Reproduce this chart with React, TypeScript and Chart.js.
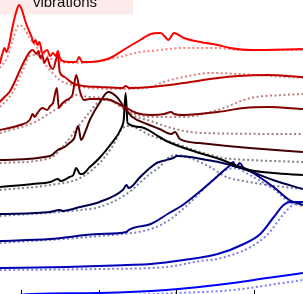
import React, { useEffect, useRef } from "react";
import { Chart, registerables } from "chart.js";

Chart.register(...registerables);

type P = [number, number];

const seriesLabels = ["S1", "S2", "S3", "S4", "S5", "S6", "S7", "S8", "S9"];
const seriesColors = ["255,0,0", "191,0,0", "128,0,0", "70,0,0", "0,0,0", "0,0,80", "0,0,140", "0,0,191", "0,0,255"];
const xTickValues = [40, 120, 200, 280];
const legendText = "vibrations";

const s1Measured: P[] = [[18,11.5],[21,12.05],[23,12.3],[25,12.1],[28,12.55],[31,13.3],[35,14.1],[38,14.45],[41,14.2],[44,13.7],[47,13.3],[51,12.85],[53,12.55],[55,12.7],[57,12.45],[59,12.6],[62,12.05],[67,12.2],[70,11.9],[73,12.05],[76,11.9],[78,12.15],[80,11.8],[83,11.65],[90,11.6],[97,11.6],[100,11.85],[103,11.6],[111,11.6],[121,11.65],[132,11.8],[149,12.3],[163,12.7],[174,13.0],[184,13.05],[189,12.85],[192,12.7],[198,13.05],[208,12.8],[225,12.6],[243,12.45],[256,12.3],[277,12.2],[331,12.25]];
const s1Model: P[] = [[18,11.3],[26,11.85],[32,12.8],[38,13.45],[43,13.3],[49,12.8],[57,12.3],[68,11.85],[80,11.6],[101,11.55],[121,11.65],[142,11.85],[163,12.1],[174,12.15],[208,12.3],[243,12.3],[264,12.2],[331,12.2]];

const s2Measured: P[] = [[18,9.6],[23,9.85],[28,10.1],[33,10.55],[39,11.2],[44,11.7],[49,12.1],[52,12.2],[56,12.0],[58,12.15],[60,11.8],[62,11.95],[64,11.55],[67,11.8],[70,11.4],[73,11.25],[78,11.95],[80,11.1],[85,10.85],[93,10.55],[104,10.4],[121,10.35],[145,10.3],[148,10.4],[152,10.3],[174,10.35],[208,10.55],[243,10.8],[264,10.9],[295,10.95],[331,10.85]];
const s2Model: P[] = [[18,9.35],[31,10.05],[42,11.2],[49,11.9],[56,11.95],[67,11.35],[80,10.7],[93,10.45],[111,10.3],[142,10.25],[174,10.35],[187,10.6],[208,10.85],[236,11.05],[264,11.0],[331,10.8]];

const s3Measured: P[] = [[18,8.2],[28,8.3],[39,8.45],[49,8.7],[52,9.0],[54,8.85],[57,9.05],[62,9.3],[67,9.2],[70,9.4],[73,9.55],[77,10.3],[79,9.3],[82,9.5],[87,9.7],[93,9.95],[97,10.95],[101,10.1],[105,9.7],[111,9.75],[121,9.75],[132,9.7],[145,9.4],[159,9.05],[174,8.95],[188,9.0],[195,9.1],[198,9.0],[208,8.95],[243,9.1],[270,9.3],[295,9.35],[331,9.25]];
const s3Model: P[] = [[18,8.05],[52,8.55],[70,9.05],[87,9.6],[97,9.95],[111,9.85],[126,9.8],[152,9.1],[174,8.85],[208,8.85],[243,9.2],[277,9.8],[311,9.95],[331,10.0]];

const s4Measured: P[] = [[18,6.7],[70,6.9],[78,7.2],[85,7.35],[90,7.55],[95,7.8],[99,8.4],[102,7.7],[107,8.2],[111,8.7],[121,9.55],[130,10.1],[139,9.85],[147,9.3],[155,8.85],[170,8.5],[183,8.25],[195,8.0],[199,8.1],[204,7.75],[224,7.55],[253,7.4],[276,7.3],[331,7.1]];
const s4Model: P[] = [[18,6.55],[70,6.8],[87,7.6],[98,8.3],[111,9.1],[124,9.7],[139,9.55],[155,8.95],[174,8.65],[195,8.3],[226,8.05],[331,8.0]];

const s5Measured: P[] = [[18,5.35],[52,5.5],[70,5.6],[78,5.75],[81,5.65],[90,5.85],[94,5.95],[97,6.3],[101,6.0],[103,6.0],[111,6.35],[121,6.8],[132,7.45],[144,8.35],[146,8.7],[148,10.05],[150,8.55],[163,8.35],[183,7.85],[190,7.65],[224,7.05],[242,6.8],[276,6.2],[300,6.05],[331,5.95]];
const s5Model: P[] = [[18,5.2],[70,5.45],[101,5.8],[121,6.55],[134,7.35],[145,8.3],[152,8.4],[173,7.95],[204,7.45],[225,7.1],[249,6.8],[276,6.7],[331,6.6]];

const s6Measured: P[] = [[18,4.0],[70,4.1],[80,4.2],[83,4.15],[101,4.35],[121,4.6],[145,5.2],[149,5.45],[151,5.3],[163,5.85],[173,6.3],[180,6.55],[186,6.65],[197,6.8],[201,6.9],[214,6.85],[232,6.7],[248,6.55],[263,6.35],[276,6.15],[300,5.7],[331,5.25]];
const s6Model: P[] = [[18,3.9],[101,4.2],[121,4.35],[149,5.0],[173,6.0],[183,6.35],[193,6.85],[201,6.95],[214,6.8],[235,6.35],[252,5.85],[276,5.6],[294,5.45],[331,5.25]];

const s7Measured: P[] = [[18,2.65],[70,2.75],[121,3.0],[149,3.1],[151,3.2],[174,3.5],[193,4.05],[207,4.45],[224,5.1],[242,5.85],[250,6.2],[255,6.4],[259,6.6],[262,6.35],[266,6.55],[269,6.35],[276,6.15],[286,5.85],[302,5.3],[317,4.7],[331,4.45]];
const s7Model: P[] = [[18,2.55],[121,2.9],[174,3.25],[193,3.7],[214,4.55],[238,5.7],[248,6.1],[261,6.3],[276,5.95],[302,5.2],[317,4.6],[331,4.4]];

const s8Measured: P[] = [[18,1.3],[87,1.35],[149,1.45],[174,1.5],[208,1.7],[243,2.0],[270,2.5],[287,3.0],[301,3.85],[311,4.45],[318,4.6],[331,4.6]];
const s8Model: P[] = [[18,1.2],[121,1.25],[190,1.35],[225,1.65],[242,1.75],[277,2.35],[295,3.0],[311,4.0],[322,4.5],[331,4.6]];

const s9Measured: P[] = [[18,-0.15],[52,0.0],[121,0.05],[190,0.2],[259,0.55],[294,0.8],[331,1.05]];
const s9Model: P[] = [[18,-0.2],[121,-0.1],[201,0.05],[259,0.2],[310,0.55],[331,0.7]];

const measured = [s1Measured, s2Measured, s3Measured, s4Measured, s5Measured, s6Measured, s7Measured, s8Measured, s9Measured];
const modelled = [s1Model, s2Model, s3Model, s4Model, s5Model, s6Model, s7Model, s8Model, s9Model];

const X_MIN = 18.3;
const X_MAX = 331.1;
const Y_MIN = 0;
const Y_MAX = 14.7;

const decorPlugin = {
  id: "decor",
  beforeDatasetsDraw(chart: any) {
    const { ctx, chartArea } = chart;
    ctx.save();
    ctx.fillStyle = "#fdeaea";
    ctx.fillRect(chartArea.left - 4, chartArea.top - 4, 137, 18.5);
    ctx.fillStyle = "#111";
    ctx.font = '15px "Liberation Sans", Arial, sans-serif';
    ctx.textAlign = "center";
    ctx.textBaseline = "alphabetic";
    ctx.fillText(legendText, chartArea.left + 65, chartArea.top + 6.5);
    ctx.restore();
  },
  afterDatasetsDraw(chart: any) {
    const { ctx, chartArea, scales } = chart;
    ctx.save();
    ctx.strokeStyle = "#000";
    ctx.lineWidth = 1;
    xTickValues.forEach((v) => {
      const px = Math.round(scales.x.getPixelForValue(v)) + 0.5;
      ctx.beginPath();
      ctx.moveTo(px, chartArea.bottom);
      ctx.lineTo(px, chartArea.bottom - 4);
      ctx.stroke();
    });
    ctx.restore();
  },
};

export default function App() {
  const ref = useRef<HTMLCanvasElement | null>(null);
  useEffect(() => {
    document.body.style.margin = "0";
    if (!ref.current) return;
    const datasets: any[] = [];
    seriesLabels.forEach((label, i) => {
      datasets.push({
        label: label + " model",
        data: modelled[i].map(([x, y]) => ({ x, y })),
        borderColor: `rgba(${seriesColors[i]},0.5)`,
        borderWidth: 2,
        borderDash: [2, 2.5],
        pointRadius: 0,
        fill: false,
        cubicInterpolationMode: "monotone",
      });
    });
    seriesLabels.forEach((label, i) => {
      datasets.push({
        label: label,
        data: measured[i].map(([x, y]) => ({ x, y })),
        borderColor: `rgb(${seriesColors[i]})`,
        borderWidth: 2,
        pointRadius: 0,
        fill: false,
        cubicInterpolationMode: "monotone",
      });
    });
    const chart = new Chart(ref.current, {
      type: "line",
      data: { datasets },
      options: {
        animation: false,
        responsive: false,
        maintainAspectRatio: false,
        layout: { padding: 0 },
        plugins: { legend: { display: false }, tooltip: { enabled: false }, title: { display: false } },
        scales: {
          x: { type: "linear", min: X_MIN, max: X_MAX, display: false },
          y: { type: "linear", min: Y_MIN, max: Y_MAX, display: false },
        },
      },
      plugins: [decorPlugin],
    });
    return () => chart.destroy();
  }, []);
  return (
    <div style={{ width: 303, height: 294 }}>
      <canvas ref={ref} width={303} height={294} />
    </div>
  );
}
